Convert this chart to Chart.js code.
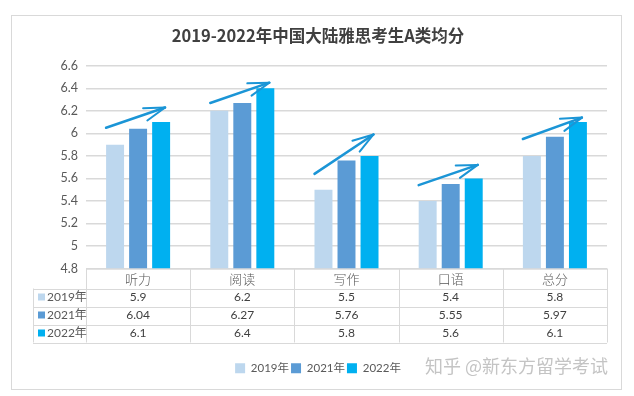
<!DOCTYPE html>
<html>
<head>
<meta charset="utf-8">
<script src="https://cdn.jsdelivr.net/npm/chart.js@4"></script>
<style>
  body { margin: 0; background: #fff; }
</style>
</head>
<body>
<canvas id="chart" width="634" height="396"></canvas>
<script>
// 数据
const categories = ['听力', '阅读', '写作', '口语', '总分'];
const years = ['2019年', '2021年', '2022年'];
const scores2019 = [5.9, 6.2, 5.5, 5.4, 5.8];
const scores2021 = [6.04, 6.27, 5.76, 5.55, 5.97];
const scores2022 = [6.1, 6.4, 5.8, 5.6, 6.1];
const yTicks = [4.8, 5, 5.2, 5.4, 5.6, 5.8, 6, 6.2, 6.4, 6.6];
// 箭头起止（按分值读取）
const arrowFrom = [6.05, 6.27, 5.64, 5.54, 5.95];
const arrowTo = [6.23, 6.45, 5.99, 5.72, 6.14];

const yearColors = ['#bdd7ee', '#5b9bd5', '#00b0f0'];
const allScores = [scores2019, scores2021, scores2022];
const numFont = "Lato, 'Noto Sans CJK SC', sans-serif";
const cjkFont = "'Noto Sans CJK SC', sans-serif";

// 边框、表格、箭头、水印
const extras = {
  id: 'extras',
  beforeDraw(chart) {
    const ctx = chart.ctx;
    ctx.save();
    ctx.strokeStyle = '#d9d9d9';
    ctx.lineWidth = 1;
    ctx.strokeRect(11.5, 15.5, 610, 374);
    ctx.restore();
  },
  afterDatasetsDraw(chart) {
    const ctx = chart.ctx;
    const ys = chart.scales.y;
    const m0 = chart.getDatasetMeta(0).data;
    const m2 = chart.getDatasetMeta(2).data;
    ctx.save();
    ctx.strokeStyle = '#1b95d6';
    ctx.lineCap = 'round';
    categories.forEach((c, i) => {
      const x0 = m0[i].x - m0[i].width / 2;
      const x1 = m2[i].x + m2[i].width / 2 - 5;
      const y0 = ys.getPixelForValue(arrowFrom[i]);
      const y1 = ys.getPixelForValue(arrowTo[i]);
      const a = Math.atan2(y1 - y0, x1 - x0);
      ctx.lineWidth = 2.5;
      ctx.beginPath();
      ctx.moveTo(x0, y0);
      ctx.lineTo(x1, y1);
      ctx.stroke();
      ctx.lineWidth = 2;
      [0.3, -0.3].forEach(s => {
        ctx.beginPath();
        ctx.moveTo(x1, y1);
        ctx.lineTo(x1 - 22 * Math.cos(a + s), y1 - 22 * Math.sin(a + s));
        ctx.stroke();
      });
    });
    ctx.restore();
  },
  afterDraw(chart) {
    const ctx = chart.ctx;
    const xs = chart.scales.x;
    const area = chart.chartArea;
    const top = area.bottom;
    const colW = (area.right - area.left) / categories.length;
    const headH = 20, rowH = 18, labelLeft = 33;
    const bottom = top + headH + rowH * years.length;
    ctx.save();
    ctx.strokeStyle = '#d9d9d9';
    ctx.lineWidth = 1;
    ctx.beginPath();
    ctx.moveTo(area.left, top + 0.5);
    ctx.lineTo(area.right, top + 0.5);
    for (let r = 0; r <= years.length; r++) {
      const yy = Math.round(top + headH + r * rowH) + 0.5;
      ctx.moveTo(labelLeft, yy);
      ctx.lineTo(area.right, yy);
    }
    ctx.moveTo(labelLeft + 0.5, top + headH);
    ctx.lineTo(labelLeft + 0.5, bottom);
    for (let c = 0; c <= categories.length; c++) {
      const xx = Math.round(area.left + c * colW) + 0.5;
      ctx.moveTo(xx, top);
      ctx.lineTo(xx, bottom);
    }
    ctx.stroke();

    ctx.textBaseline = 'middle';
    ctx.textAlign = 'center';
    ctx.fillStyle = '#595959';
    ctx.font = '300 13px ' + cjkFont;
    categories.forEach((c, i) => {
      ctx.fillText(c, xs.getPixelForValue(i), top + headH / 2 + 1);
    });
    years.forEach((yr, r) => {
      const cy = top + headH + r * rowH + rowH / 2;
      ctx.fillStyle = yearColors[r];
      ctx.fillRect(labelLeft + 5, cy - 4, 7, 7);
      ctx.fillStyle = '#595959';
      ctx.textAlign = 'left';
      ctx.font = '12px ' + numFont;
      ctx.fillText(yr, labelLeft + 14, cy);
      ctx.textAlign = 'center';
      ctx.fillStyle = '#404040';
      allScores[r].forEach((v, i) => {
        ctx.fillText(String(v), xs.getPixelForValue(i), cy);
      });
    });

    ctx.fillStyle = '#c4c4c4';
    ctx.textAlign = 'right';
    ctx.font = '18px ' + cjkFont;
    ctx.fillText('知乎 @新东方留学考试', 608, 366);
    ctx.restore();
  }
};

new Chart(document.getElementById('chart'), {
  type: 'bar',
  data: {
    labels: categories,
    datasets: years.map((yr, k) => ({
      label: yr,
      data: allScores[k],
      backgroundColor: yearColors[k],
      barPercentage: 0.78,
      categoryPercentage: 0.663
    }))
  },
  options: {
    responsive: false,
    animation: false,
    devicePixelRatio: 1,
    layout: { padding: { left: 29, right: 27, top: 0, bottom: 12 } },
    plugins: {
      title: {
        display: true,
        text: '2019-2022年中国大陆雅思考生A类均分',
        color: '#404040',
        font: { family: cjkFont, size: 16.5, weight: 'bold' },
        padding: { top: 26, bottom: 20 }
      },
      legend: {
        position: 'bottom',
        labels: {
          boxWidth: 10,
          boxHeight: 10,
          padding: 2,
          color: '#595959',
          font: { family: numFont, size: 11.5 }
        }
      },
      tooltip: { enabled: false }
    },
    scales: {
      x: {
        grid: { display: false },
        border: { display: false },
        ticks: { display: false },
        afterFit: s => { s.height = 92; }
      },
      y: {
        min: 4.8,
        max: 6.6,
        afterFit: s => { s.width = 57; },
        afterBuildTicks: s => { s.ticks = yTicks.map(v => ({ value: v })); },
        grid: { color: '#d9d9d9', lineWidth: 1.5, drawTicks: false },
        border: { display: false },
        ticks: {
          padding: 8,
          color: '#595959',
          font: { family: numFont, size: 12.5 },
          callback: v => String(v)
        }
      }
    }
  },
  plugins: [extras]
});
</script>
</body>
</html>
